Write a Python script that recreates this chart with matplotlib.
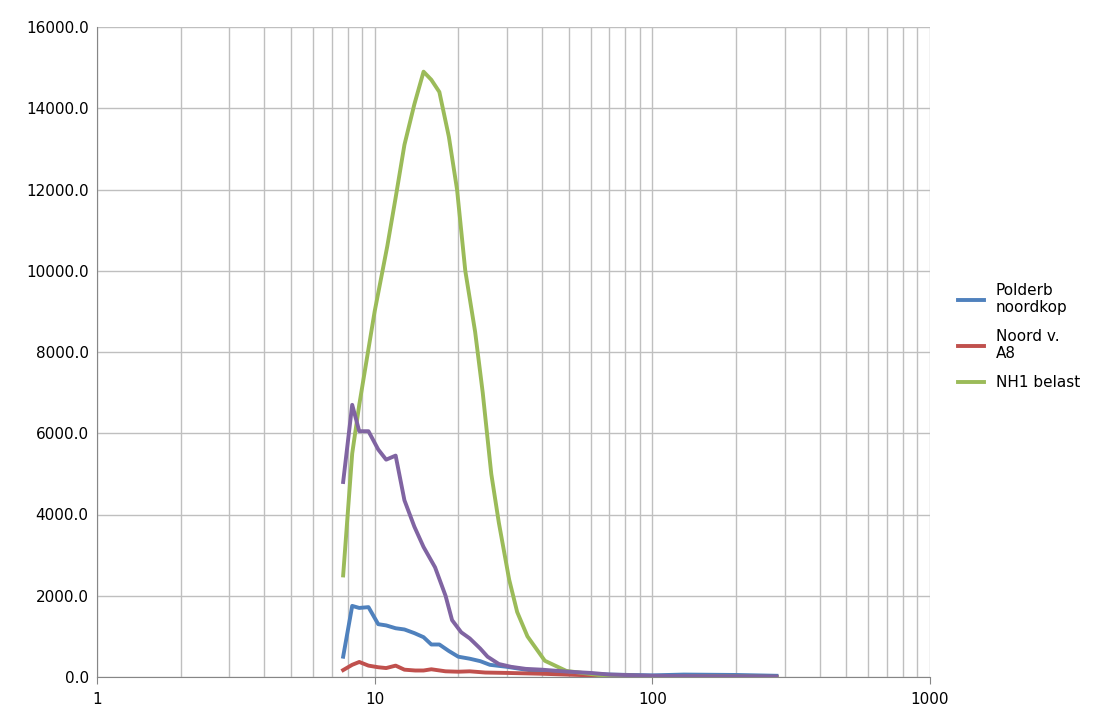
import matplotlib.pyplot as plt
from matplotlib.ticker import FuncFormatter, LogLocator, FixedLocator

x_green = [7.7, 8.3, 8.8, 10, 11.1, 11.9, 12.8, 13.9, 15, 16, 17.1, 18.5, 19.8, 21.2, 23, 24.5,
           26.3, 28, 30.5, 32.6, 35.5, 41, 49, 64, 100, 150, 200, 280]
green = [2500, 5500, 6700, 9000, 10600, 11800, 13100, 14100, 14900, 14700, 14400, 13300, 12000,
         10000, 8500, 7000, 5000, 3800, 2400, 1600, 1000, 400, 150, 50, 20, 10, 5, 0]

x_purple = [7.7, 8.3, 8.8, 9.5, 10.3, 11, 11.9, 12.8, 13.9, 15, 16.5, 18, 19, 20.5, 22, 24, 25.5,
            28, 31, 35, 40, 50, 60, 70, 100, 150, 200, 280]
purple = [4800, 6700, 6050, 6050, 5600, 5350, 5450, 4350, 3700, 3200, 2700, 2000, 1400, 1100, 950,
          700, 500, 320, 250, 200, 180, 130, 100, 60, 30, 20, 10, 5]

x_blue = [7.7, 8.3, 8.8, 9.5, 10.3, 11, 11.9, 12.8, 13.9, 15, 16, 17.1, 18.5, 20, 22, 24, 26, 30,
          35, 40, 50, 60, 70, 100, 130, 200, 280]
blue = [500, 1750, 1700, 1720, 1300, 1270, 1200, 1170, 1080, 980, 800, 800, 640, 500, 450, 390,
        300, 250, 180, 130, 100, 80, 60, 40, 60, 50, 30]

x_red = [7.7, 8.3, 8.8, 9.5, 10.3, 11, 11.9, 12.8, 14, 15, 16, 18, 20, 22, 25, 30, 40, 60, 100,
         200, 280]
red = [170, 300, 370, 280, 240, 220, 280, 180, 160, 160, 190, 140, 130, 140, 110, 100, 80, 40, 20,
       10, 5]

fig = plt.figure(figsize=(11.13, 7.16), dpi=100)
ax = fig.add_axes([97 / 1113, 39 / 716, 833 / 1113, 650 / 716])

lw = 2.8
ax.plot(x_blue, blue, color='#4F81BD', lw=lw, label='Polderb\nnoordkop')
ax.plot(x_red, red, color='#C0504D', lw=lw, label='Noord v.\nA8')
ax.plot(x_green, green, color='#9BBB59', lw=lw, label='NH1 belast')
ax.plot(x_purple, purple, color='#8064A2', lw=lw, label='_nolegend_')

ax.set_xscale('log')
ax.set_xlim(1, 1000)
ax.set_ylim(0, 16000)
ax.yaxis.set_major_locator(FixedLocator(range(0, 16001, 2000)))
ax.yaxis.set_major_formatter(FuncFormatter(lambda v, p: f'{v:.1f}'))
ax.xaxis.set_major_formatter(FuncFormatter(lambda v, p: f'{v:g}'))
ax.xaxis.set_minor_locator(LogLocator(base=10, subs=range(2, 10)))
ax.grid(True, which='both', color='#BFBFBF', lw=1)
ax.set_axisbelow(True)
for s in ['top', 'right']:
    ax.spines[s].set_visible(False)
for s in ['left', 'bottom']:
    ax.spines[s].set_color('#868686')
ax.tick_params(which='both', length=0, labelsize=11, colors='black', pad=6)
ax.tick_params(axis='x', which='major', length=5, direction='out', color='#868686')

fig.legend(loc='center left', bbox_to_anchor=(0.848, 0.53), frameon=False, fontsize=11,
           handlelength=1.7, labelspacing=0.9)

fig.savefig('out.png')
